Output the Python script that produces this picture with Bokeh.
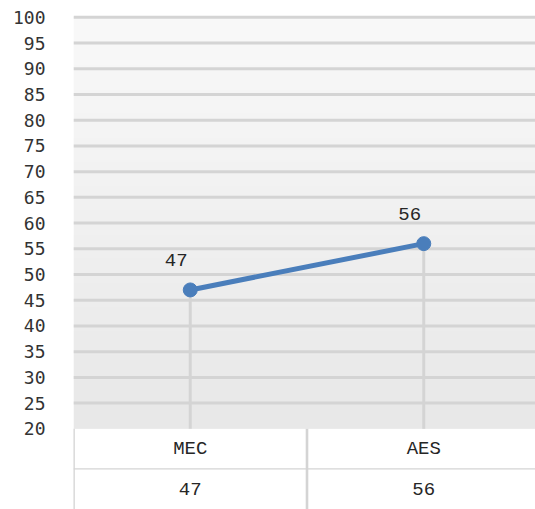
import numpy as np
from bokeh.plotting import figure
from bokeh.models import Range1d, FixedTicker, ColumnDataSource
from bokeh.core.properties import value
from bokeh.embed import file_html
from bokeh.resources import INLINE

# ---- data ----
categories = ["MEC", "AES"]
scores = [47, 56]
y_ticks = list(range(20, 101, 5))
y_min, y_max = 20, 100

xs = [i + 0.5 for i in range(len(categories))]

# ---- layout constants (pixels -> data) ----
px_per_unit = 25.7 / 5
frame_left_border = 73
frame_top_border = 14
fig_w, fig_h = 535, 509
y_end = y_max + 2.8 / px_per_unit
y_start = y_min - 80.6 / px_per_unit
x_end = (fig_w - frame_left_border) / 233.5

p = figure(width=fig_w, height=fig_h, output_backend="svg", toolbar_location=None,
           x_range=Range1d(0, x_end), y_range=Range1d(y_start, y_end),
           x_axis_location=None, min_border_left=frame_left_border,
           min_border_right=0, min_border_top=frame_top_border, min_border_bottom=0)
p.outline_line_color = None
p.background_fill_color = "white"
p.border_fill_color = "white"

# gradient background of plot area (decoration)
n = 400
top = np.array([249, 249, 249]); bot = np.array([232, 232, 232])
t = np.linspace(0, 1, n)[:, None]
cols = (bot + (top - bot) * t).astype(np.uint32)
img = np.empty((n, 1), dtype=np.uint32)
view = img.view(dtype=np.uint8).reshape((n, 1, 4))
view[:, 0, 0] = cols[:, 0]; view[:, 0, 1] = cols[:, 1]; view[:, 0, 2] = cols[:, 2]; view[:, 0, 3] = 255
p.image_rgba(image=[img], x=0, y=y_min, dw=x_end, dh=y_max - y_min)

# y axis
p.yaxis.ticker = FixedTicker(ticks=y_ticks)
p.yaxis.axis_line_color = None
p.yaxis.major_tick_line_color = None
p.yaxis.minor_tick_line_color = None
p.yaxis.major_label_standoff = 22
p.yaxis.major_label_text_font = "DejaVu Sans Mono"
p.yaxis.major_label_text_font_size = "18px"
p.yaxis.major_label_text_color = "#333333"

p.xgrid.visible = False
p.ygrid.visible = False

grid_col = "#d4d4d4"
# horizontal gridlines
gl = [v for v in y_ticks if v > y_min]
p.segment(x0=[0] * len(gl), x1=[x_end] * len(gl), y0=gl, y1=gl, line_color=grid_col, line_width=3)

# drop lines
p.segment(x0=xs, x1=xs, y0=[y_min] * len(xs), y1=scores, line_color=grid_col, line_width=3)

# table
row_split = y_min - 40 / px_per_unit
seps = list(range(len(categories) + 1))
p.segment(x0=seps, x1=seps, y0=[y_min] * len(seps), y1=[y_start] * len(seps), line_color=grid_col, line_width=2.6)
p.segment(x0=[0], x1=[x_end], y0=[row_split], y1=[row_split], line_color=grid_col, line_width=1.3)

hdr_y = (y_min + row_split) / 2
val_y = row_split - 20.5 / px_per_unit
p.text(x=xs, y=[hdr_y] * len(xs), text=categories, text_align="center", text_baseline="middle",
       text_font=value("Liberation Mono"), text_font_size="19px", text_color="#262626")
p.text(x=xs, y=[val_y] * len(xs), text=[str(s) for s in scores], text_align="center", text_baseline="middle",
       text_font=value("Liberation Mono"), text_font_size="19px", text_color="#262626")

# series
src = ColumnDataSource(dict(x=xs, y=scores, lab=[str(s) for s in scores]))
p.line("x", "y", source=src, line_color="#4a7ebb", line_width=5)
p.scatter("x", "y", source=src, size=14, fill_color="#4a7ebb", line_color="#4a7ebb")
p.text("x", "y", text="lab", source=src, x_offset=-14, y_offset=-30, text_align="center",
       text_baseline="middle", text_font=value("Liberation Mono"), text_font_size="19px",
       text_color="#262626")

open("out.html", "w").write(file_html(p, INLINE))
